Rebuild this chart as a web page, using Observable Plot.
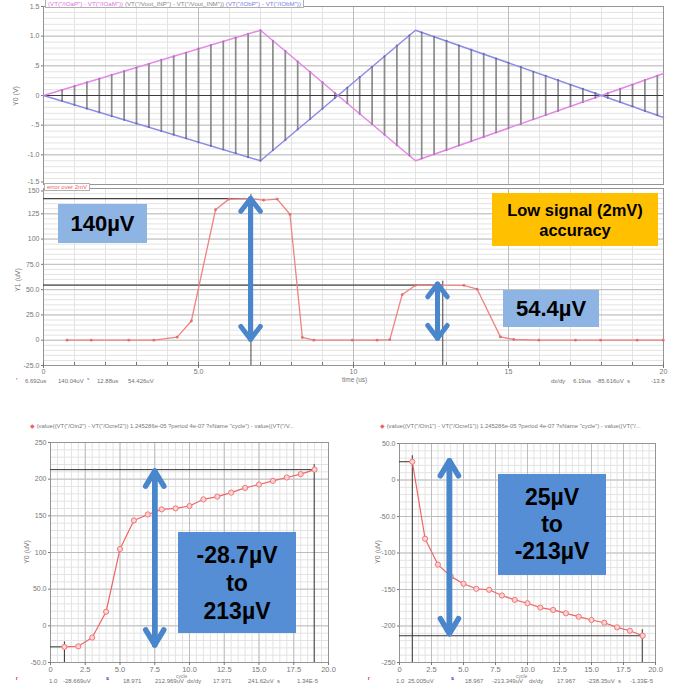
<!DOCTYPE html>
<html>
<head>
<meta charset="utf-8">
<script src="https://cdn.jsdelivr.net/npm/d3@7"></script>
<script src="https://cdn.jsdelivr.net/npm/@observablehq/plot@0.6"></script>
<style>
  body { margin: 0; background: #fff; }
  #root { position: relative; width: 680px; height: 690px; overflow: hidden; background: #fff;
          font-family: "Liberation Sans", Arial, sans-serif; }
  #root svg { position: absolute; background: transparent; }
  .box { position: absolute; display: flex; flex-direction: column; align-items: center; justify-content: center;
         text-align: center; font-weight: bold; color: #000; font-family: "Liberation Sans", Arial, sans-serif; }
  .sm { position: absolute; white-space: nowrap; line-height: 1; color: #707070; }
</style>
</head>
<body>
<div id="root"></div>
<script>
// ================= DATA =================
// Panel 1 — input ramps (V) vs time (µs)
const rampTime = [0, 7, 12, 18, 20];
const rampPink = [0, 1.1, -1.1, 0, 0.37];   // VT("/IOaP") - VT("/IOaM")
const rampBlue = [0, -1.1, 1.1, 0, -0.37];  // VT("/IObP") - VT("/IObM")
const stemTime = [0.6,1.0,1.4,1.8,2.2,2.6,3.0,3.4,3.8,4.2,4.6,5.0,5.4,5.8,6.2,6.6,7.0,7.4,7.8,8.2,8.6,9.0,9.4,9.8,10.2,10.6,11.0,11.4,11.8,12.2,12.6,13.0,13.4,13.8,14.2,14.6,15.0,15.4,15.8,16.2,16.6,17.0,17.4,17.8,18.2,18.6,19.0,19.4,19.8];
const stemHigh = [0.09,0.16,0.22,0.28,0.35,0.41,0.47,0.53,0.60,0.66,0.72,0.79,0.85,0.91,0.97,1.04,1.10,0.92,0.75,0.57,0.40,0.22,0.04,-0.13,-0.31,-0.48,-0.66,-0.84,-1.01,-1.06,-0.99,-0.92,-0.84,-0.77,-0.70,-0.62,-0.55,-0.48,-0.40,-0.33,-0.26,-0.18,-0.11,-0.04,0.04,0.11,0.18,0.26,0.33];
const p1YTicks = [1.5, 1, 0.5, 0, -0.5, -1, -1.5];
const p1YLabels = ["1.5", "1.0", ".5", "0", "-.5", "-1.0", "-1.5"];

// Panel 2 — error over 2mV (µV) vs time (µs)
const errTime = [0.76,1.54,2.75,3.56,4.31,4.77,5.55,5.98,6.69,7.10,7.54,7.95,8.35,8.72,9.96,10.76,11.17,11.57,12.0,12.75,13.56,13.99,14.74,15.17,15.98,17.16,17.97,19.15,19.99];
const errUV   = [0,0,0,0,3,19,129,139.5,140,138.5,139.5,124.5,2.7,0,0,0,0.5,45,54.3,54.4,54.3,50.4,3.3,0.7,0,0,0,0,0];
const p2XTicks = [0, 5, 10, 15, 20];
const p2XLabels = ["0", "5.0", "10", "15", "20"];
const p2YTicks = [150, 125, 100, 75, 50, 25, 0, -25];
const p2YLabels = ["150", "125", "100", "75.0", "50.0", "25.0", "0", "-25.0"];
const p2CursorX = [6.692, 12.88];
const p2CursorY = [140.04, 54.426];
const p2ArrowX = [6.68, 12.71];
const p2ArrowFrom = [1, 2];
const p2ArrowTo = [140, 55.5];

// Panels 3 & 4 — per-cycle offset (µV) vs cycle
const cycles = [1,2,3,4,5,6,7,8,9,10,11,12,13,14,15,16,17,18,19];
const ch2UV = [-28.7,-28,-16,19.2,104.8,143.7,151.9,158.8,160.2,163.4,172.5,176.2,181.7,188.1,192.7,197.7,202.3,206.9,213.0];
const ch1UV = [25.0,-80.5,-115.9,-132,-142.1,-149,-150.4,-158.2,-164.2,-168.8,-174.8,-178,-182.6,-187.2,-191.8,-195.5,-201.9,-206.5,-213.3];
const cyXTicks = [0, 2.5, 5, 7.5, 10, 12.5, 15, 17.5, 20];
const cyXLabels = ["0", "2.5", "5.0", "7.5", "10.0", "12.5", "15.0", "17.5", "20.0"];
const p3YTicks = [250, 200, 150, 100, 50, 0, -50];
const p3YLabels = ["250", "200", "150", "100", "50.0", "0", "-50.0"];
const p4YTicks = [50, 0, -50, -100, -150, -200, -250];
const p4YLabels = ["50.0", "0", "-50.0", "-100", "-150", "-200", "-250"];
const p3CursorX = [1.0, 18.971];
const p3CursorY = [-28.669, 212.969];
const p4CursorX = [1.0, 18.967];
const p4CursorY = [25.005, -213.349];
const p3Arrow = [{x: 7.5, from: -26, to: 211}];
const p4Arrow = [{x: 3.9, from: -210.5, to: 26.5}];

// ================= BUILD =================
const root = document.getElementById("root");
const FONT = "'Liberation Sans', Arial, sans-serif";
const ARROW = "#4a86cc";

function zipXY(xs, ys) { return xs.map((x, i) => ({x, y: ys[i]})); }
function labelMap(ticks, labels) { return new Map(ticks.map((t, i) => [t, labels[i]])); }

function panel(o) {
  const yMap = labelMap(o.yTicks, o.yLabels);
  const nudge = o.yNudge || [null, 0];
  const yAxisOpts = {tickFormat: d => yMap.get(d), tickSize: 2, tickPadding: 2, color: "#777", fontSize: 7, label: null};
  const marks = [
    Plot.gridX(o.xMinor, {stroke: "#e3e3e3", strokeOpacity: 1}),
    Plot.gridY(o.yMinor, {stroke: "#e3e3e3", strokeOpacity: 1}),
    Plot.gridX(o.xMajor, {stroke: "#bdbdbd", strokeOpacity: 1}),
    Plot.gridY(o.yMajor, {stroke: "#bdbdbd", strokeOpacity: 1}),
    Plot.frame({stroke: "#959595"}),
    Plot.axisY(o.yTicks.filter(t => t !== nudge[0]), yAxisOpts)
  ];
  if (nudge[0] !== null) marks.push(Plot.axisY([nudge[0]], {...yAxisOpts, dy: nudge[1]}));
  if (o.xTicks) {
    const xMap = labelMap(o.xTicks, o.xLabels);
    marks.push(Plot.axisX(o.xTicks, {tickFormat: d => xMap.get(d), tickSize: 3, tickPadding: 1, color: "#777", fontSize: o.xFont || 7, label: null}));
  }
  const svg = Plot.plot({
    width: o.w, height: o.h,
    marginLeft: o.ml, marginRight: o.mr, marginTop: o.mt, marginBottom: o.mb,
    x: o.xTicks ? {domain: o.xd} : {domain: o.xd, axis: null},
    y: {domain: o.yd},
    style: {background: "transparent", fontFamily: FONT, overflow: "visible"},
    marks: marks.concat(o.marks)
  });
  svg.style.left = o.left + "px";
  svg.style.top = o.top + "px";
  root.appendChild(svg);
}

// ---------- Panel 1
const rampPinkData = zipXY(rampTime, rampPink);
const rampBlueData = zipXY(rampTime, rampBlue);
const stems = stemTime.map((t, i) => ({t, hi: stemHigh[i]}));
panel({
  left: 0, top: 0, w: 680, h: 188, ml: 43, mr: 17, mt: 6, mb: 4,
  xd: [0, 20], yd: [-1.5, 1.5],
  xMinor: d3.range(0, 21, 1), yMinor: d3.range(-1.5, 1.51, 0.1),
  xMajor: [5, 10, 15], yMajor: [1, 0.5, -0.5, -1],
  yTicks: p1YTicks, yLabels: p1YLabels, yNudge: [-1.5, -2.5],
  marks: [
    Plot.ruleX(stems, {x: "t", y1: "hi", y2: d => -d.hi, stroke: "#8a8a8a", strokeWidth: 1.7}),
    Plot.ruleY([0], {stroke: "#3a3a3a", strokeWidth: 1}),
    Plot.line(rampPinkData, {x: "x", y: "y", stroke: "#e488e4", strokeWidth: 1.5}),
    Plot.line(rampBlueData, {x: "x", y: "y", stroke: "#8c8ce4", strokeWidth: 1.5}),
    Plot.dot(stems, {x: "t", y: "hi", r: 1.1, fill: "#b070c0"}),
    Plot.dot(stems, {x: "t", y: d => -d.hi, r: 1.1, fill: "#6a6ab8"})
  ]
});

// ---------- Panel 2
const errData = zipXY(errTime, errUV);
const p2Cursors = zipXY(p2CursorX, p2CursorY);
const p2Arrows = p2ArrowX.map((x, i) => ({x, from: p2ArrowFrom[i], to: p2ArrowTo[i]}));
panel({
  left: 0, top: 183, w: 680, h: 207, ml: 43, mr: 17, mt: 5, mb: 25,
  xd: [0, 20], yd: [-25, 150],
  xMinor: d3.range(0, 21, 1), yMinor: d3.range(-25, 151, 5),
  xMajor: [5, 10, 15], yMajor: [125, 100, 75, 50, 25, 0],
  yTicks: p2YTicks, yLabels: p2YLabels, yNudge: [150, 2.5],
  xTicks: p2XTicks, xLabels: p2XLabels,
  marks: [
    Plot.ruleX(d3.range(0, 21, 1), {stroke: "#777", insetTop: 174}),
    Plot.ruleY(p2Cursors, {y: "y", x1: 0, x2: "x", stroke: "#444", strokeWidth: 1.2}),
    Plot.ruleX(p2Cursors, {x: "x", y1: "y", y2: -25, stroke: "#444", strokeWidth: 1, insetTop: -4}),
    Plot.line(errData, {x: "x", y: "y", stroke: "#f08282", strokeWidth: 1.3}),
    Plot.dot(errData, {x: "x", y: "y", r: 1.4, fill: "#e07070"}),
    Plot.arrow(p2Arrows, {x: "x", y1: "from", y2: "to", stroke: ARROW, strokeWidth: 5, headLength: 4.8, headAngle: 75}),
    Plot.arrow(p2Arrows, {x: "x", y1: "to", y2: "from", stroke: ARROW, strokeWidth: 5, headLength: 4.8, headAngle: 75})
  ]
});

// ---------- Panel 3 (bottom left)
const ch2Data = zipXY(cycles, ch2UV);
const p3Cursors = zipXY(p3CursorX, p3CursorY);
panel({
  left: 0, top: 436, w: 340, h: 254, ml: 50, mr: 12, mt: 6, mb: 28,
  xd: [0, 20], yd: [-50, 250],
  xMinor: d3.range(0, 20.01, 0.5), yMinor: d3.range(-50, 251, 10),
  xMajor: cyXTicks, yMajor: p3YTicks,
  yTicks: p3YTicks, yLabels: p3YLabels,
  xTicks: cyXTicks, xLabels: cyXLabels, xFont: 7.5,
  marks: [
    Plot.ruleY(p3Cursors, {y: "y", x1: 0, x2: "x", stroke: "#333", strokeWidth: 1}),
    Plot.ruleX(p3Cursors, {x: "x", y1: "y", y2: -50, stroke: "#333", strokeWidth: 1, insetTop: -5}),
    Plot.line(ch2Data, {x: "x", y: "y", stroke: "#ef6464", strokeWidth: 1.2}),
    Plot.dot(ch2Data, {x: "x", y: "y", r: 2.6, stroke: "#f07a7a", fill: "#fbd0d0", strokeWidth: 1}),
    Plot.arrow(p3Arrow, {x: "x", y1: "from", y2: "to", stroke: ARROW, strokeWidth: 5.5, headLength: 4.8, headAngle: 62}),
    Plot.arrow(p3Arrow, {x: "x", y1: "to", y2: "from", stroke: ARROW, strokeWidth: 5.5, headLength: 4.8, headAngle: 62})
  ]
});

// ---------- Panel 4 (bottom right)
const ch1Data = zipXY(cycles, ch1UV);
const p4Cursors = zipXY(p4CursorX, p4CursorY);
panel({
  left: 340, top: 436, w: 340, h: 254, ml: 59, mr: 25, mt: 7, mb: 28,
  xd: [0, 20], yd: [-250, 50],
  xMinor: d3.range(0, 20.01, 0.5), yMinor: d3.range(-250, 51, 10),
  xMajor: cyXTicks, yMajor: p4YTicks,
  yTicks: p4YTicks, yLabels: p4YLabels,
  xTicks: cyXTicks, xLabels: cyXLabels, xFont: 7.5,
  marks: [
    Plot.ruleY(p4Cursors, {y: "y", x1: 0, x2: "x", stroke: "#333", strokeWidth: 1}),
    Plot.ruleX(p4Cursors, {x: "x", y1: "y", y2: -250, stroke: "#333", strokeWidth: 1, insetTop: -6}),
    Plot.line(ch1Data, {x: "x", y: "y", stroke: "#ef6464", strokeWidth: 1.2}),
    Plot.dot(ch1Data, {x: "x", y: "y", r: 2.6, stroke: "#f07a7a", fill: "#fbd0d0", strokeWidth: 1}),
    Plot.arrow(p4Arrow, {x: "x", y1: "from", y2: "to", stroke: ARROW, strokeWidth: 5.5, headLength: 4.8, headAngle: 62}),
    Plot.arrow(p4Arrow, {x: "x", y1: "to", y2: "from", stroke: ARROW, strokeWidth: 5.5, headLength: 4.8, headAngle: 62})
  ]
});

// ================= TEXT OVERLAYS =================
function sm(html, x, yc, size = 6, color = "#707070", extra = {}) {
  const d = document.createElement("div");
  d.className = "sm";
  d.innerHTML = html;
  Object.assign(d.style, {left: x + "px", top: (yc - size * 0.55) + "px", fontSize: size + "px", color}, extra);
  root.appendChild(d);
  return d;
}
function vtitle(text, cx, cy) {
  const d = document.createElement("div");
  d.className = "sm";
  d.textContent = text;
  Object.assign(d.style, {left: cx + "px", top: cy + "px", fontSize: "7px", color: "#777",
    transform: "translate(-50%,-50%) rotate(-90deg)"});
  root.appendChild(d);
}
function box(lines, x, y, w, h, bg, size, lh) {
  const d = document.createElement("div");
  d.className = "box";
  Object.assign(d.style, {left: x + "px", top: y + "px", width: w + "px", height: h + "px", background: bg,
    fontSize: size + "px", lineHeight: lh + "px"});
  d.innerHTML = lines.map(l => `<div>${l}</div>`).join("");
  root.appendChild(d);
}

// top legend tab
const tab1 = sm(
  '<span style="color:#e070e0">(VT("/IOaP") - VT("/IOaM"))</span> ' +
  '<span style="color:#888">(VT("/Vout_INP") - VT("/Vout_INM"))</span> ' +
  '<span style="color:#7c7ce0">(VT("/IObP") - VT("/IObM"))</span>', 45, 4, 6.2);
Object.assign(tab1.style, {background: "#fff", border: "1px solid #b0b0b0", borderTop: "none", padding: "0 2px", top: "0px", height: "7px", lineHeight: "7px"});

// middle tab
const tab2 = sm("error over 2mV", 44, 187, 6, "#f05a5a");
Object.assign(tab2.style, {background: "#fff", border: "1px solid #b0b0b0", padding: "0 2px", top: "183px", height: "6px", lineHeight: "6px"});

vtitle("Y0 (V)", 15, 96);
vtitle("Y1 (uV)", 17, 280);
vtitle("Y0 (uV)", 26, 552);
vtitle("Y0 (uV)", 377, 552);

sm("time (us)", 342, 381, 6.5, "#777");

// middle readouts
sm('<span style="color:#e33">ʳ</span>', 16, 380, 7);
sm("6.692us", 25, 381); sm("140.04uV", 58, 381);
sm('<span style="color:#33c">ˢ</span>', 87, 380, 7);
sm("12.88us", 97, 381); sm("54.426uV", 128, 381);
sm("dx/dy", 551, 381); sm("6.19us", 573, 381); sm("-85.616uV&nbsp; s", 596, 381); sm("-13.8", 651, 381);

// bottom legends
sm('<span style="color:#f06060">◆</span> (value((VT("/Oin2") - VT("/Ocref2")) 1.245286e-05 ?period 4e-07 ?xName "cycle") - value((VT("/V...', 30, 427, 5.9, "#777");
sm('<span style="color:#f06060">◆</span> (value((VT("/Oin1") - VT("/Ocref1")) 1.245286e-05 ?period 4e-07 ?xName "cycle") - value((VT("/...', 380, 427, 5.9, "#777");

// bottom-left readouts
sm('<span style="color:#e22;font-weight:bold">ʳ</span>', 16, 680, 8);
sm("1.0", 49, 681); sm("-28.669uV", 63, 681);
sm('<span style="color:#22c;font-weight:bold">ˢ</span>', 106, 680, 8);
sm("18.971", 123, 681); sm("212.969uV", 155, 681); sm("cycle", 176, 676.5, 5, "#888");
sm("dx/dy", 187, 681); sm("17.971", 213, 681); sm("241.62uV&nbsp; s", 248, 681); sm("1.34E-5", 297, 681);

// bottom-right readouts
sm('<span style="color:#e22;font-weight:bold">ʳ</span>', 368, 680, 8);
sm("1.0", 396, 681); sm("25.005uV", 408, 681);
sm('<span style="color:#22c;font-weight:bold">ˢ</span>', 451, 680, 8);
sm("18.967", 465, 681); sm("-213.349uV", 492, 681); sm("cycle", 516, 676.5, 5, "#888");
sm("dx/dy", 529, 681); sm("17.967", 557, 681); sm("-238.35uV&nbsp; s", 587, 681); sm("-1.33E-5", 630, 681);

// callout boxes
box(["140µV"], 58, 204, 89, 39, "#8db4e2", 22, 26);
box(["54.4µV"], 503, 290, 96, 37, "#8db4e2", 22, 26);
box(["Low signal (2mV)", "accuracy"], 492, 193, 166, 53, "#ffc000", 16.5, 20);
box(["-28.7µV", "to", "213µV"], 178, 532, 118, 101, "#558ed5", 23, 28);
box(["25µV", "to", "-213µV"], 498, 474, 108, 101, "#558ed5", 23, 27);
</script>
</body>
</html>
